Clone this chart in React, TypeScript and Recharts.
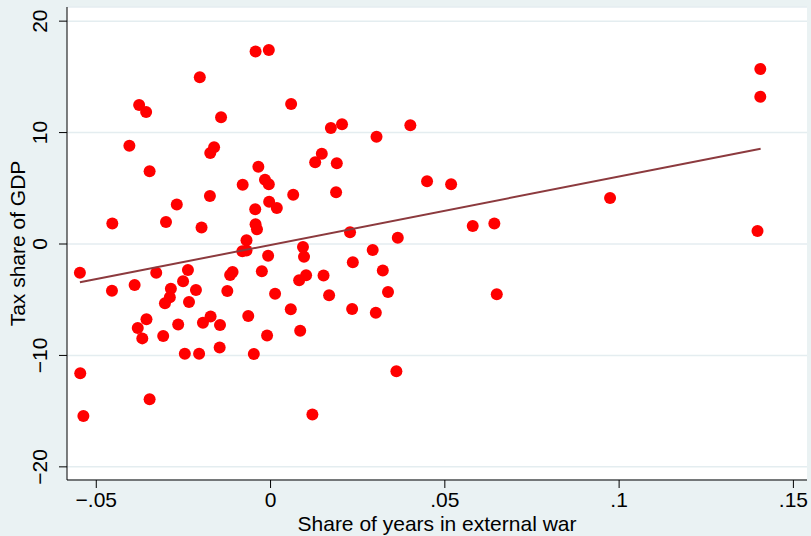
import React from 'react'
import { ScatterChart, Scatter, XAxis, YAxis, CartesianGrid } from 'recharts'

// values
const warShare = [
  -0.0203, -0.0377, -0.0357, -0.0142, -0.0405, -0.0162, -0.0173, -0.0347, -0.008, -0.0174,
  -0.0269, -0.0454, -0.03, -0.0198, -0.0043, -0.0005, 0.0059, 0.0173, 0.0205, 0.0304,
  0.0401, 0.0147, 0.0128, 0.019, -0.0035, -0.0016, -0.0005, 0.0065, 0.0188, -0.0004,
  0.0018, -0.0044, -0.0043, -0.0039, -0.0069, 0.0228, 0.0365, -0.0547, -0.0455, -0.039,
  -0.0328, -0.0237, -0.0251, -0.0286, -0.0289, -0.0303, -0.0214, -0.0234, -0.0356, -0.0381,
  -0.0368, -0.0308, -0.0265, -0.0194, -0.0172, -0.0145, -0.0124, -0.0116, -0.0109, -0.0081,
  -0.0069, -0.0246, -0.0205, -0.0146, -0.0546, -0.0537, -0.0347, -0.0007, -0.0025, 0.0093,
  0.0096, 0.0293, 0.0236, 0.0322, 0.0082, 0.0102, 0.0152, 0.0013, 0.0168, 0.0337,
  0.0058, 0.0234, 0.0302, -0.0064, -0.001, 0.0085, -0.0048, 0.0361, 0.012, 0.0449,
  0.0518, 0.058, 0.0642, 0.0649, 0.1405, 0.1405, 0.0974, 0.1397,
]
const taxShare = [
  14.96, 12.48, 11.85, 11.37, 8.82, 8.68, 8.17, 6.53, 5.32, 4.31,
  3.55, 1.84, 1.97, 1.48, 17.28, 17.41, 12.57, 10.41, 10.75, 9.63,
  10.66, 8.11, 7.33, 7.24, 6.94, 5.77, 5.37, 4.42, 4.64, 3.79,
  3.23, 3.12, 1.78, 1.33, 0.33, 1.05, 0.57, -2.58, -4.2, -3.68,
  -2.58, -2.33, -3.34, -4.02, -4.78, -5.32, -4.13, -5.21, -6.76, -7.54,
  -8.47, -8.26, -7.23, -7.06, -6.51, -7.27, -4.22, -2.78, -2.51, -0.66,
  -0.58, -9.86, -9.85, -9.29, -11.61, -15.44, -13.94, -1.05, -2.45, -0.27,
  -1.14, -0.54, -1.63, -2.38, -3.25, -2.81, -2.83, -4.47, -4.6, -4.31,
  -5.86, -5.83, -6.18, -6.46, -8.21, -7.78, -9.87, -11.42, -15.31, 5.63,
  5.36, 1.62, 1.84, -4.52, 15.71, 13.22, 4.12, 1.16,
]

// fitted line end points
const fitWar = [-0.0547, 0.1406]
const fitTax = [-3.44, 8.55]

const xTicks = [-0.05, 0, 0.05, 0.1, 0.15]
const xTickLabels = ['−.05', '0', '.05', '.1', '.15']
const yTicks = [-20, -10, 0, 10, 20]
const yTickLabels = ['−20', '−10', '0', '10', '20']

const FONT = 'Arial, "Liberation Sans", Helvetica, sans-serif'

const points = warShare.map((x, i) => ({ x, y: taxShare[i] }))
const fitLine = fitWar.map((x, i) => ({ x, y: fitTax[i] }))

function XTick({ x, y, payload }: any) {
  const i = xTicks.indexOf(payload.value)
  return (
    <text x={x} y={y} dy={17} textAnchor="middle" fontSize={21} fill="#000" fontFamily={FONT}>
      {i >= 0 ? xTickLabels[i] : payload.value}
    </text>
  )
}

function YTick({ x, y, payload }: any) {
  const i = yTicks.indexOf(payload.value)
  const tx = x - 10
  return (
    <text
      x={tx}
      y={y}
      transform={`rotate(-90, ${tx}, ${y})`}
      textAnchor="middle"
      fontSize={21}
      fill="#000"
      fontFamily={FONT}
    >
      {i >= 0 ? yTickLabels[i] : payload.value}
    </text>
  )
}

function XTitle({ viewBox }: any) {
  const cx = viewBox.x + viewBox.width / 2
  return (
    <text x={cx} y={531} textAnchor="middle" fontSize={21} fill="#000" fontFamily={FONT}>
      Share of years in external war
    </text>
  )
}

function YTitle({ viewBox }: any) {
  const cy = viewBox.y + viewBox.height / 2
  const tx = 25
  return (
    <text
      x={tx}
      y={cy}
      transform={`rotate(-90, ${tx}, ${cy})`}
      textAnchor="middle"
      fontSize={21}
      fill="#000"
      fontFamily={FONT}
    >
      Tax share of GDP
    </text>
  )
}

export default function App() {
  return (
    <div style={{ width: 811, height: 536, background: '#eaf2f3' }}>
      <style>{'body{margin:0}'}</style>
      <ScatterChart width={811} height={536} margin={{ top: 7, right: 4, bottom: 6, left: 0 }}>
        <CartesianGrid vertical={false} stroke="#e4edf0" strokeWidth={1.5} fill="#ffffff" />
        <XAxis
          type="number"
          dataKey="x"
          domain={[-0.0584, 0.1539]}
          ticks={xTicks}
          allowDataOverflow
          height={50}
          stroke="#000"
          tickSize={8}
          tick={<XTick />}
          label={<XTitle />}
        />
        <YAxis
          type="number"
          dataKey="y"
          domain={[-21.18, 21.27]}
          ticks={yTicks}
          allowDataOverflow
          width={67}
          stroke="#000"
          tickSize={8}
          tick={<YTick />}
          label={<YTitle />}
        />
        <Scatter
          data={points}
          isAnimationActive={false}
          shape={(p: any) => <circle cx={p.cx} cy={p.cy} r={6} fill="#ff0000" />}
        />
        <Scatter
          data={fitLine}
          isAnimationActive={false}
          line={{ stroke: '#8c3a3e', strokeWidth: 2 }}
          shape={() => <g />}
        />
      </ScatterChart>
    </div>
  )
}
